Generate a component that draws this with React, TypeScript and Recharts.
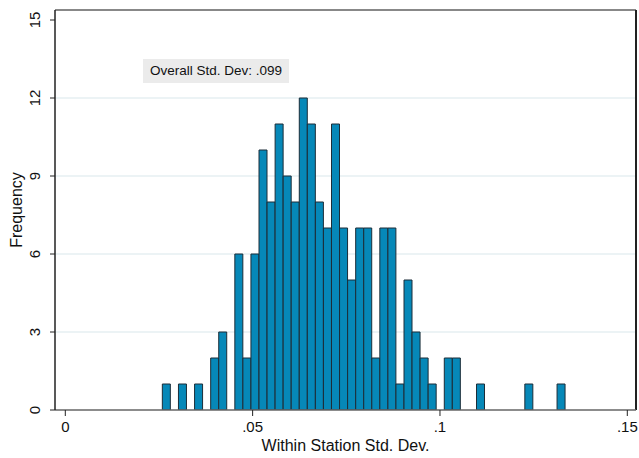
import { BarChart, Bar, XAxis, YAxis, CartesianGrid, ReferenceLine } from "recharts";

// histogram counts, one per bin, left to right
const BIN_START = 0.0259;
const BIN_WIDTH = 0.00215;
const counts = [
  1, 0, 1, 0, 1, 0, 2, 3, 0, 6,
  2, 6, 10, 8, 11, 9, 8, 12, 11, 8,
  7, 11, 7, 5, 7, 7, 2, 7, 7, 1,
  5, 3, 2, 1, 0, 2, 2, 0, 0, 1,
  0, 0, 0, 0, 0, 1, 0, 0, 0, 1,
];
const xTicks = [0, 0.05, 0.1, 0.15];
const xTickLabels = ["0", ".05", ".1", ".15"];
const yTicks = [0, 3, 6, 9, 12, 15];
const gridValues = [3, 6, 9, 12];

const X_MIN = -0.00275;
const X_MAX = 0.15232;
const Y_MAX = 15.385;

const data = counts.map((count, i) => ({
  mid: BIN_START + (i + 0.5) * BIN_WIDTH,
  count,
}));

const FONT = "'Liberation Sans', Arial, Helvetica, sans-serif";

function YTick(props: any) {
  const { y, payload } = props;
  return (
    <g>
      <line x1={50} x2={55} y1={y} y2={y} stroke="#222" strokeWidth={1} />
      <text
        x={40}
        y={y}
        transform={`rotate(-90 40 ${y})`}
        textAnchor="middle"
        fontSize={15}
        fontFamily={FONT}
        fill="#111"
      >
        {payload.value}
      </text>
    </g>
  );
}

function XTick(props: any) {
  const { x, payload, index } = props;
  const i = xTicks.indexOf(payload.value);
  return (
    <g>
      <line x1={x} x2={x} y1={410} y2={416} stroke="#222" strokeWidth={1} />
      <text x={x} y={432} textAnchor="middle" fontSize={15} fontFamily={FONT} fill="#111">
        {xTickLabels[i >= 0 ? i : index]}
      </text>
    </g>
  );
}

export default function App() {
  return (
    <div style={{ position: "relative", width: 639, height: 458, background: "#fff", fontFamily: FONT }}>
      <style>{`body{margin:0}`}</style>
      <BarChart
        width={639}
        height={458}
        data={data}
        margin={{ top: 10, right: 3, left: 0, bottom: 0 }}
        barCategoryGap={0}
        barGap={0}
      >
        <CartesianGrid horizontal vertical={false} horizontalValues={gridValues} stroke="#e6eff2" strokeWidth={1.5} />
        <XAxis
          dataKey="mid"
          type="number"
          domain={[X_MIN, X_MAX]}
          ticks={xTicks}
          allowDataOverflow
          height={48}
          tickLine={false}
          axisLine={{ stroke: "#666", strokeWidth: 1.5 }}
          tick={<XTick />}
          interval={0}
        />
        <YAxis
          type="number"
          domain={[0, Y_MAX]}
          ticks={yTicks}
          allowDataOverflow
          width={55}
          tickLine={false}
          axisLine={{ stroke: "#222", strokeWidth: 1.5 }}
          tick={<YTick />}
          interval={0}
        />
        <ReferenceLine y={Y_MAX} stroke="#888" strokeWidth={2} />
        <ReferenceLine x={X_MAX} stroke="#222" strokeWidth={2} />
        <Bar dataKey="count" fill="#0688b8" stroke="#1c2d38" strokeWidth={1} isAnimationActive={false} />
      </BarChart>
      {/* axis titles */}
      <svg width={639} height={458} style={{ position: "absolute", left: 0, top: 0, pointerEvents: "none" }}>
        <text x={22} y={210} transform="rotate(-90 22 210)" textAnchor="middle" fontSize={16} fontFamily={FONT} fill="#111">
          Frequency
        </text>
        <text x={345.5} y={450.5} textAnchor="middle" fontSize={16} fontFamily={FONT} fill="#111">
          Within Station Std. Dev.
        </text>
      </svg>
      <div
        style={{
          position: "absolute",
          left: 143,
          top: 59,
          width: 146,
          height: 24,
          background: "#ebebeb",
          fontSize: 13.5,
          lineHeight: "24px",
          color: "#111",
          textAlign: "center",
        }}
      >
        Overall Std. Dev: .099
      </div>
    </div>
  );
}
